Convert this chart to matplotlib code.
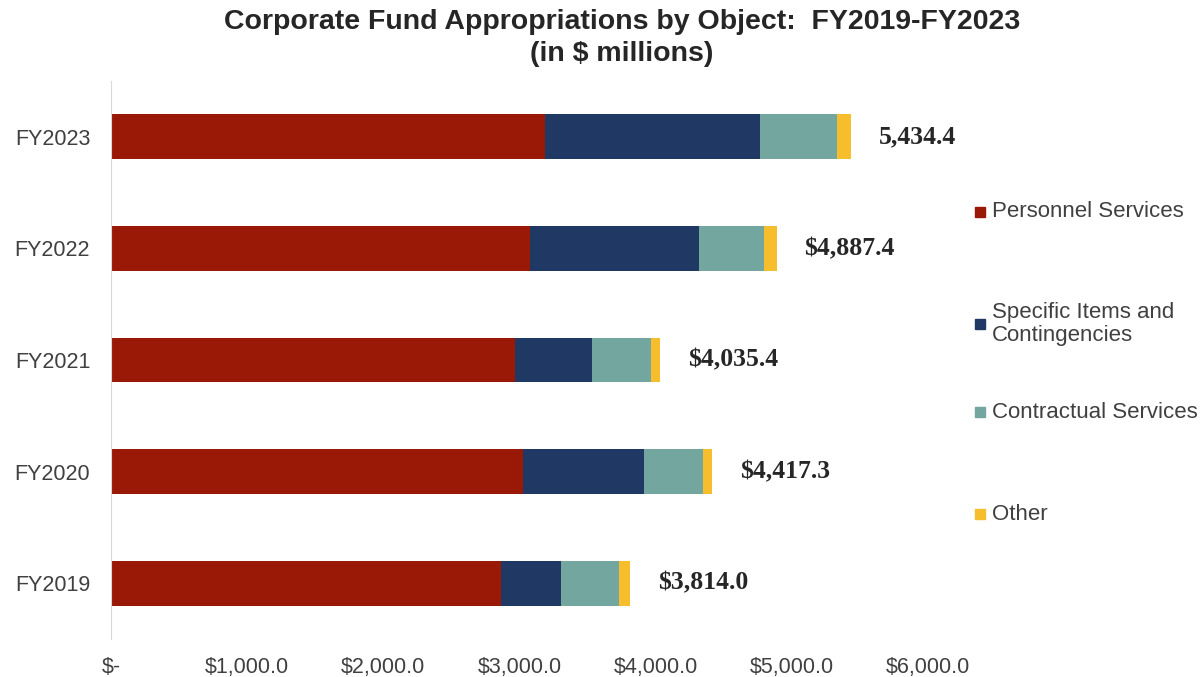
import matplotlib
matplotlib.use("Agg")
import matplotlib.pyplot as plt
from matplotlib.patches import Rectangle
from matplotlib.ticker import FuncFormatter
import numpy as np

years = ["FY2019", "FY2020", "FY2021", "FY2022", "FY2023"]
personnel = [2867.0, 3024.0, 2970.0, 3075.0, 3184.0]
specific = [437.0, 888.0, 560.0, 1242.0, 1583.0]
contractual = [424.0, 437.0, 437.0, 478.0, 562.0]
other = [86.0, 68.3, 68.4, 92.4, 105.4]
totals = [3814.0, 4417.3, 4035.4, 4887.4, 5434.4]
total_labels = ["$3,814.0", "$4,417.3", "$4,035.4", "$4,887.4", "5,434.4"]
series_names = ["Personnel Services", "Specific Items and\nContingencies",
                "Contractual Services", "Other"]
colors = ["#9A1806", "#203864", "#72A69E", "#F6BE2D"]
xticks = [0, 1000, 2000, 3000, 4000, 5000, 6000]

W, H = 1204, 677
fig = plt.figure(figsize=(W / 100, H / 100), dpi=100)
ax = fig.add_axes([111 / W, 1 - 639 / H, (928 - 111) / W, (639 - 81) / H])

y = np.arange(len(years))
left = np.zeros(len(years))
for vals, c in zip([personnel, specific, contractual, other], colors):
    ax.barh(y, vals, left=left, height=0.4, color=c, edgecolor="none")
    left += np.array(vals)

for yi, t, lab in zip(y, totals, total_labels):
    ax.annotate(lab, xy=(t, yi), xytext=(20, 0), textcoords="offset points",
                ha="left", va="center", fontsize=18.5, fontweight="bold",
                family="Liberation Serif", color="#262626")

ax.set_xlim(0, 6000)
ax.set_ylim(-0.5, 4.5)
ax.set_xticks(xticks)
ax.xaxis.set_major_formatter(FuncFormatter(lambda v, p: "$-" if v == 0 else f"${v:,.1f}"))
ax.set_yticks(y)
ax.set_yticklabels(years)
for s in ["top", "right", "bottom"]:
    ax.spines[s].set_visible(False)
ax.spines["left"].set_color("#D9D9D9")
ax.tick_params(axis="both", length=0, labelcolor="#404040")
ax.tick_params(axis="x", pad=13, labelsize=15.5)
ax.tick_params(axis="y", pad=15, labelsize=15.5)
for lab in ax.get_xticklabels() + ax.get_yticklabels():
    lab.set_family("Liberation Sans")

fig.text(622 / W, 1 - 9 / H,
         "Corporate Fund Appropriations by Object:  FY2019-FY2023\n(in $ millions)",
         ha="center", va="top", fontsize=20.5, fontweight="bold",
         family="Liberation Sans", color="#262626", linespacing=1.3)

# legend
leg_y = [212, 324, 412, 514]
for name, c, ly in zip(series_names, colors, leg_y):
    fig.patches.append(Rectangle((975 / W, 1 - (ly + 5) / H), 10 / W, 10 / H,
                                 transform=fig.transFigure, color=c))
    fig.text(992 / W, 1 - ly / H, name, ha="left", va="center", fontsize=16,
             family="Liberation Sans", color="#404040", linespacing=1.1)

fig.savefig("out.png", dpi=100)
